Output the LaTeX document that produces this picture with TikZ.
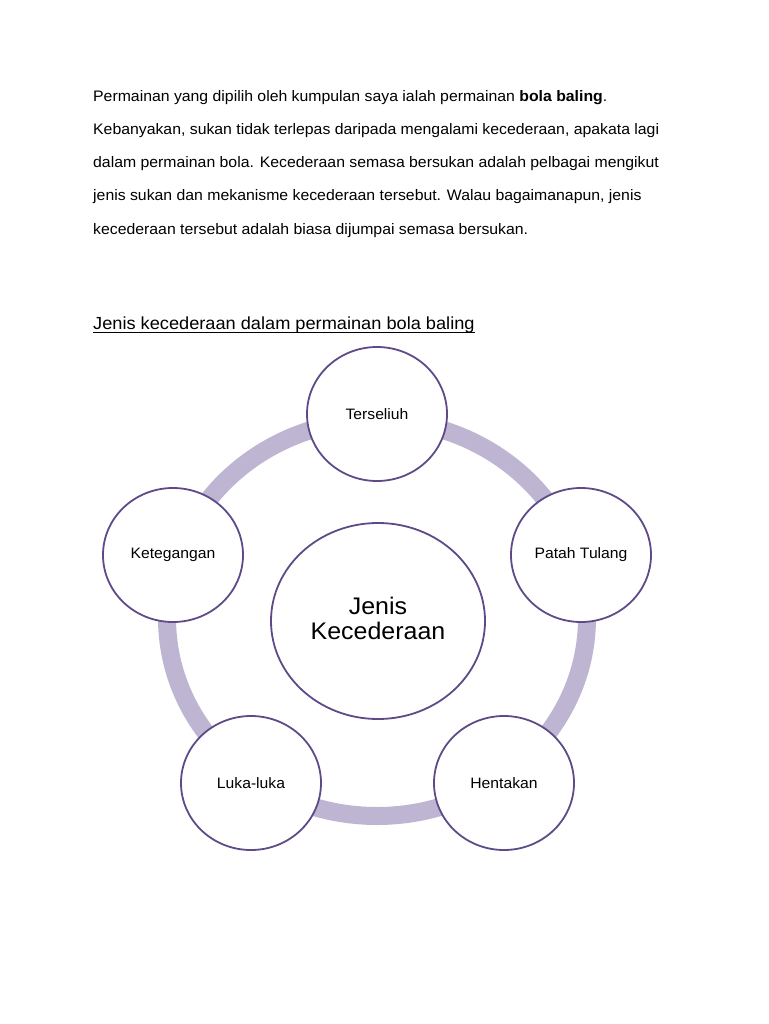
\documentclass[tikz,border=0pt]{standalone}
\usepackage{fontspec}
\setmainfont{Liberation Sans}[FakeStretch=1.04]
\usetikzlibrary{shapes.geometric}
\definecolor{ringc}{HTML}{BDB5D1}
\definecolor{edgec}{HTML}{5F4A88}
\begin{document}
\begin{tikzpicture}[x=1pt,y=-1pt,
  bodytext/.style={anchor=base west,inner sep=0pt,font=\fontsize{15.2}{17}\selectfont},
  bubble/.style={ellipse,draw=edgec,line width=1.8pt,fill=white,inner sep=0pt,
    minimum width=140pt,minimum height=134pt,font=\fontsize{15.1}{18}\selectfont},
  hub/.style={ellipse,draw=edgec,line width=1.8pt,fill=white,inner sep=0pt,
    minimum width=214pt,minimum height=196pt},
  hubtext/.style={align=center,inner sep=0pt,font=\fontsize{24}{25}\selectfont}]
\useasboundingbox[fill=white] (0,0) rectangle (768,1024);
\node[bodytext] (l1) at (93,102) {Permainan yang dipilih oleh kumpulan saya ialah permainan \textbf{bola baling}.};
\node[bodytext] (l2) at (93,135) {Kebanyakan, sukan tidak terlepas daripada mengalami kecederaan, apakata lagi};
\node[bodytext] (l3) at (93,168) {dalam permainan bola. Kecederaan semasa bersukan adalah pelbagai mengikut};
\node[bodytext] (l4) at (93,201) {jenis sukan dan mekanisme kecederaan tersebut. Walau bagaimanapun, jenis};
\node[bodytext] (l5) at (93,234) {kecederaan tersebut adalah biasa dijumpai semasa bersukan.};
\node[anchor=base west,inner sep=0pt,font=\fontsize{17.5}{20}\selectfont] (title) at (93,329) {Jenis kecederaan dalam permainan bola baling};
\draw[line width=1pt] ([yshift=-3pt]title.base west) -- ([yshift=-3pt]title.base east);
\draw[ringc,line width=18pt] (377,618) ellipse [x radius=210pt,y radius=198pt];
\node[hub] (hub) at (378,621) {};
\node[hubtext] (hubt) at (378,618) {Jenis\\Kecederaan};
\node[bubble] (b1) at (377,414) {Terseliuh};
\node[bubble] (b2) at (581,555) {Patah Tulang};
\node[bubble] (b3) at (504,783) {Hentakan};
\node[bubble] (b4) at (251,783) {Luka-luka};
\node[bubble] (b5) at (173,555) {Ketegangan};
\end{tikzpicture}
\end{document}
